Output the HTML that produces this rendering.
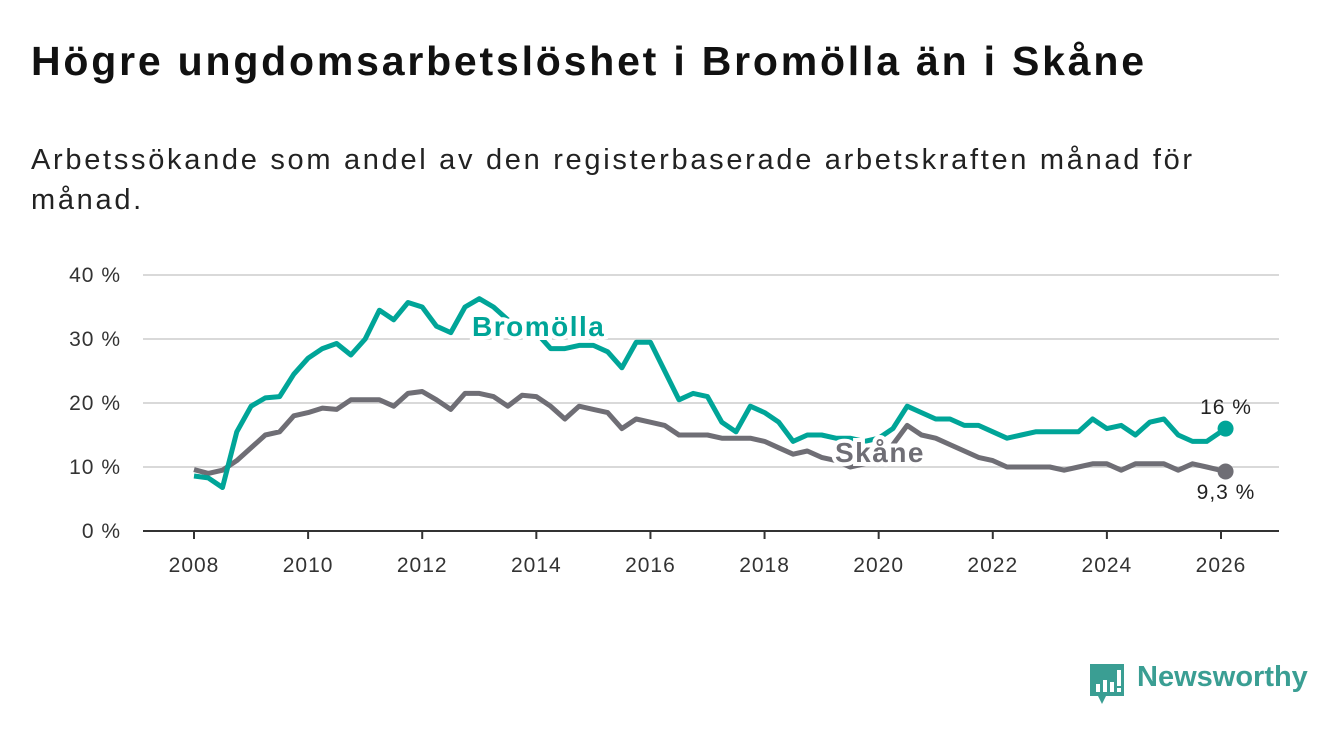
<!DOCTYPE html>
<html><head><meta charset="utf-8"><style>
body{margin:0;background:#fff;width:1340px;height:734px;overflow:hidden;font-family:"Liberation Sans","DejaVu Sans",sans-serif;}
h1{position:absolute;left:31px;top:38px;margin:0;font-size:41px;font-weight:bold;color:#111;letter-spacing:2.8px;white-space:nowrap;}
.sub{position:absolute;left:31px;top:140px;font-size:29px;line-height:40px;color:#222;width:1280px;letter-spacing:2.7px;}
svg{position:absolute;left:0;top:0;}
</style></head><body>
<h1>Högre ungdomsarbetslöshet i Bromölla än i Skåne</h1>
<div class="sub">Arbetssökande som andel av den registerbaserade arbetskraften månad för<br>månad.</div>
<svg id="chart" width="1340" height="734"></svg>
<script>
const years = [2008,2008.25,2008.5,2008.75,2009,2009.25,2009.5,2009.75,2010,2010.25,2010.5,2010.75,2011,2011.25,2011.5,2011.75,2012,2012.25,2012.5,2012.75,2013,2013.25,2013.5,2013.75,2014,2014.25,2014.5,2014.75,2015,2015.25,2015.5,2015.75,2016,2016.25,2016.5,2016.75,2017,2017.25,2017.5,2017.75,2018,2018.25,2018.5,2018.75,2019,2019.25,2019.5,2019.75,2020,2020.25,2020.5,2020.75,2021,2021.25,2021.5,2021.75,2022,2022.25,2022.5,2022.75,2023,2023.25,2023.5,2023.75,2024,2024.25,2024.5,2024.75,2025,2025.25,2025.5,2025.75,2026.08];
const bromolla = [8.6,8.3,6.8,15.5,19.5,20.8,21.0,24.5,27.0,28.5,29.3,27.5,30.0,34.5,33.0,35.7,35.0,32.0,31.0,35.0,36.3,35.0,33,32,31.0,28.5,28.5,29.0,29.0,28.0,25.5,29.5,29.5,25,20.5,21.5,21.0,17.0,15.5,19.5,18.5,17.0,14.0,15.0,15.0,14.5,14.5,14,14.5,16,19.5,18.5,17.5,17.5,16.5,16.5,15.5,14.5,15.0,15.5,15.5,15.5,15.5,17.5,16.0,16.5,15.0,17.0,17.5,15.0,14.0,14.0,16];
const skane = [9.6,9.0,9.5,11.0,13.0,15.0,15.5,18.0,18.5,19.2,19.0,20.5,20.5,20.5,19.5,21.5,21.8,20.5,19.0,21.5,21.5,21.0,19.5,21.2,21.0,19.5,17.5,19.5,19.0,18.5,16.0,17.5,17.0,16.5,15.0,15.0,15.0,14.5,14.5,14.5,14.0,13.0,12.0,12.5,11.5,11.0,10,10.5,11.0,13.5,16.5,15.0,14.5,13.5,12.5,11.5,11.0,10.0,10.0,10.0,10.0,9.5,10.0,10.5,10.5,9.5,10.5,10.5,10.5,9.5,10.5,10.0,9.3];
const yTicks = [0,10,20,30,40];
const xTicks = [2008,2010,2012,2014,2016,2018,2020,2022,2024,2026];
const X = v => 194 + (v-2008)*(1221-194)/18;
const Y = v => 531 - v*6.4;
const svg = document.getElementById('chart');
const NS = 'http://www.w3.org/2000/svg';
function mk(tag, attrs, parent){const e=document.createElementNS(NS,tag);for(const k in attrs)e.setAttribute(k,attrs[k]);(parent||svg).appendChild(e);return e;}
yTicks.forEach(t=>{
  const l=mk('line',{x1:143,x2:1279,y1:Y(t),y2:Y(t),stroke:t===0?'#333':'#d9d9d9','stroke-width':2});
  
  
  const tx=mk('text',{x:121,y:Y(t)+7,'text-anchor':'end','font-size':21,fill:'#333','letter-spacing':1});
  tx.textContent=t+' %';
  
  
});
xTicks.forEach(t=>{
  const l=mk('line',{x1:X(t),x2:X(t),y1:531,y2:539,stroke:'#333','stroke-width':2});
  
  
  const tx=mk('text',{x:X(t),y:572,'text-anchor':'middle','font-size':21,fill:'#333','letter-spacing':1});
  tx.textContent=t;
  
  
});
function line(vals,color,name){
  const d=vals.map((v,i)=>(i?'L':'M')+X(years[i]).toFixed(1)+','+Y(v).toFixed(1)).join('');
  const p=mk('path',{d:d,fill:'none',stroke:color,'stroke-width':5,'stroke-linejoin':'round'});
  
  
  const n=vals.length-1;
  const c=mk('circle',{cx:X(years[n]),cy:Y(vals[n]),r:8,fill:color});
  
  
}
line(skane,'#6f6e75','skane');
line(bromolla,'#00a598','bromolla');
function label(txt,x,y,color,size,bold,name,anchor){
  const t=mk('text',{x:x,y:y,'font-size':size,'font-weight':bold?'bold':'normal',fill:color,stroke:'#fff','stroke-width':bold?8:0,'paint-order':'stroke','text-anchor':anchor||'start','letter-spacing':bold?1.5:1});
  t.textContent=txt;
  
  
}
label('Bromölla',472,336,'#00a598',28,true,'bromolla-series-label');
label('Skåne',835,462,'#6f6e75',28,true,'skane-series-label');
label('16 %',1226,414,'#222',21,false,'bromolla-end-value','middle');
label('9,3 %',1226,499,'#222',21,false,'skane-end-value','middle');
</script>
<svg width="40" height="44" style="left:1088px;top:662px">
<path d="M2 2 H36 V34 H18 L14 42 L10 34 H2 Z" fill="#3a9e93"/>
<rect x="8" y="22" width="4" height="8" fill="#fff"/><rect x="15" y="18" width="4" height="12" fill="#fff"/><rect x="22" y="20" width="4" height="10" fill="#fff"/><rect x="29" y="8" width="4" height="16" fill="#fff"/><rect x="29" y="26" width="4" height="4" fill="#fff"/>
</svg>
<div style="position:absolute;left:1137px;top:661px;font-size:29px;color:#3a9e93;font-weight:bold;">Newsworthy</div>
</body></html>
